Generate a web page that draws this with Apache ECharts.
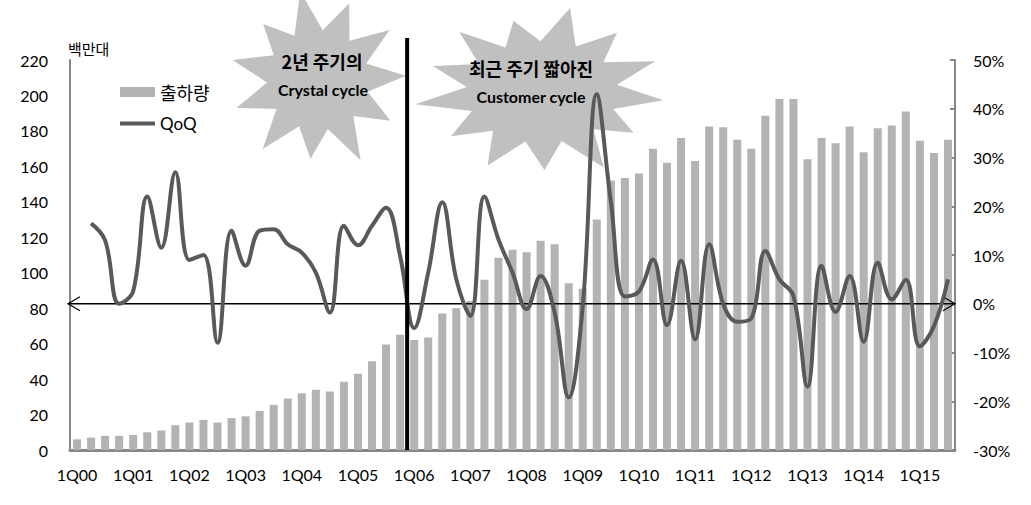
<!DOCTYPE html>
<html><head><meta charset="utf-8">
<script src="https://cdn.jsdelivr.net/npm/echarts@6/dist/echarts.min.js"></script>
<style>html,body{margin:0;padding:0;background:#fff}#c{width:1031px;height:505px}</style>
</head><body><div id="c"></div>
<script>
const categories = ['1Q00','2Q00','3Q00','4Q00','1Q01','2Q01','3Q01','4Q01','1Q02','2Q02','3Q02','4Q02',
  '1Q03','2Q03','3Q03','4Q03','1Q04','2Q04','3Q04','4Q04','1Q05','2Q05','3Q05','4Q05',
  '1Q06','2Q06','3Q06','4Q06','1Q07','2Q07','3Q07','4Q07','1Q08','2Q08','3Q08','4Q08',
  '1Q09','2Q09','3Q09','4Q09','1Q10','2Q10','3Q10','4Q10','1Q11','2Q11','3Q11','4Q11',
  '1Q12','2Q12','3Q12','4Q12','1Q13','2Q13','3Q13','4Q13','1Q14','2Q14','3Q14','4Q14',
  '1Q15','2Q15','3Q15'];
// 출하량 (백만대)
const shipments = [6, 7, 8, 8, 8.5, 10, 11, 14, 15.5, 17, 15.5, 18,
  19, 22, 25.5, 29, 32, 34, 33, 38.5, 43, 50, 59.5, 65,
  62, 63.5, 77, 80, 84, 96, 108.5, 113, 111.5, 118, 116, 94,
  91, 130, 152, 153.5, 156, 170, 162, 176, 163, 182.5, 182, 175,
  170, 188.5, 198, 198, 164, 176, 173, 182.5, 168, 181.5, 183, 191,
  174.5, 167.5, 175];
// QoQ (%)
const qoq = [null, 16.5, 13, 0, 2.6, 22, 11.5, 27, 9, 10, -8, 15,
  7.8, 15, 15.3, 12.2, 10.5, 6.4, -1.8, 16, 12, 16, 19.7, 9.8,
  -5, 6.4, 20.8, 5, -2.5, 22, 13.2, 6.4, -1.1, 5.7, -1.8, -19.2,
  -0.5, 43, 21, 1.5, 2.5, 9.1, -4.4, 8.8, -7.3, 12.2, 0, -3.7,
  -3, 10.8, 5, 1.6, -17, 7.8, -1.7, 5.7, -7.8, 8.4, 0.9, 4.9,
  -8.7, -4.6, 5];
const leftAxisTicks = {min: 0, max: 220, interval: 20};
const rightAxisTicks = {min: -30, max: 50, interval: 10};
const unitLabel = '백만대';
const cycleNotes = [['2년 주기의', 'Crystal cycle'], ['최근 주기 짧아진', 'Customer cycle']];
const cycleBreak = ['4Q05', '1Q06'];

const NUMF = 'Lato, "Noto Sans CJK KR", sans-serif';
const KRF = '"Noto Sans CJK KR", Lato, sans-serif';

const chart = echarts.init(document.getElementById('c'), null, {renderer: 'svg'});
chart.setOption({
  animation: false,
  backgroundColor: '#fff',
  grid: {left: 70, right: 76, top: 60, bottom: 55},
  legend: {
    orient: 'vertical', left: 113, top: 78, itemWidth: 35, itemHeight: 10, itemGap: 14,
    textStyle: {fontSize: 18, color: '#000', fontFamily: KRF},
    data: [{name: '출하량', icon: 'rect'},
      {name: 'QoQ', textStyle: {fontFamily: NUMF, fontSize: 17},
       itemStyle: {opacity: 0}, lineStyle: {width: 4, color: '#595959'}}]
  },
  xAxis: {
    type: 'category', data: categories, boundaryGap: true,
    axisLine: {lineStyle: {color: '#888', width: 3}},
    axisTick: {show: false},
    axisLabel: {interval: 3, color: '#000', fontSize: 16, fontFamily: NUMF, margin: 16}
  },
  yAxis: [{
    type: 'value', min: leftAxisTicks.min, max: leftAxisTicks.max, interval: leftAxisTicks.interval,
    axisLine: {show: true, lineStyle: {color: '#888', width: 2}},
    axisTick: {show: false}, splitLine: {show: false},
    axisLabel: {color: '#000', fontSize: 16, fontFamily: NUMF, margin: 22}
  }, {
    type: 'value', min: rightAxisTicks.min, max: rightAxisTicks.max, interval: rightAxisTicks.interval,
    position: 'right',
    axisLine: {show: true, lineStyle: {color: '#888', width: 2}},
    axisTick: {show: true, inside: true, length: 5, lineStyle: {color: '#888', width: 2}},
    splitLine: {show: false},
    axisLabel: {color: '#000', fontSize: 16, fontFamily: NUMF, margin: 18, formatter: '{value}%'}
  }],
  series: [{
    name: '출하량', type: 'bar', data: shipments, barWidth: '57%', z: 2,
    itemStyle: {color: '#b3b3b3'}
  }, {
    name: 'QoQ', type: 'line', yAxisIndex: 1, data: qoq, smooth: 0.4, symbol: 'none', z: 4,
    connectNulls: false,
    lineStyle: {color: '#595959', width: 4}, itemStyle: {color: '#595959'}
  }]
});

function starPoints(cx, cy, rx, ry, radii, inner, rot) {
  const n = radii.length, pts = [];
  for (let k = 0; k < n; k++) {
    const a = rot + k * 2 * Math.PI / n;
    pts.push([cx + rx * radii[k] * Math.cos(a), cy + ry * radii[k] * Math.sin(a)]);
    const b = a + Math.PI / n;
    pts.push([cx + rx * inner * Math.cos(b), cy + ry * inner * Math.sin(b)]);
  }
  return pts;
}

function drawAnnotations() {
  const xa = chart.convertToPixel({xAxisIndex: 0}, cycleBreak[0]);
  const xb = chart.convertToPixel({xAxisIndex: 0}, cycleBreak[1]);
  const xBreak = (xa + xb) / 2;
  const yBottom = chart.convertToPixel({yAxisIndex: 0}, 0);
  const yZero = chart.convertToPixel({yAxisIndex: 1}, 0);
  const xLeft = chart.convertToPixel({xAxisIndex: 0}, categories[0]) - 9;
  const xRight = chart.convertToPixel({xAxisIndex: 0}, categories[categories.length - 1]) + 7;
  const starFill = '#c0c0c0';
  chart.setOption({
    graphic: [
      {type: 'polygon', z: 1, shape: {points: starPoints(318, 80, 88, 86,
        [1, 0.95, 1.05, 0.92, 1.02, 0.98, 1.0, 0.9, 1.05, 0.96, 1.0], 0.58, -0.05)},
        style: {fill: starFill}, silent: true},
      {type: 'polygon', z: 1, shape: {points: starPoints(542, 92, 122, 82,
        [1, 0.9, 1.05, 0.95, 1.0, 0.92, 1.05, 0.95, 1.0, 0.9, 1.05, 0.95, 1.0], 0.62, 0.1)},
        style: {fill: starFill}, silent: true},
      {type: 'text', z: 6, x: 322, y: 61, style: {text: cycleNotes[0][0], fill: '#000',
        font: 'bold 18px ' + KRF, textAlign: 'center', textVerticalAlign: 'middle'}},
      {type: 'text', z: 6, x: 323, y: 89, style: {text: cycleNotes[0][1], fill: '#000',
        font: 'bold 16px ' + NUMF, textAlign: 'center', textVerticalAlign: 'middle'}},
      {type: 'text', z: 6, x: 531, y: 68, style: {text: cycleNotes[1][0], fill: '#000',
        font: 'bold 18px ' + KRF, textAlign: 'center', textVerticalAlign: 'middle'}},
      {type: 'text', z: 6, x: 531, y: 96, style: {text: cycleNotes[1][1], fill: '#000',
        font: 'bold 16px ' + NUMF, textAlign: 'center', textVerticalAlign: 'middle'}},
      {type: 'text', z: 6, x: 68, y: 48, style: {text: unitLabel, fill: '#000',
        font: '15px ' + KRF, textAlign: 'left', textVerticalAlign: 'middle'}},
      {type: 'line', z: 3, shape: {x1: xLeft, y1: yZero, x2: xRight, y2: yZero},
        style: {stroke: '#000', lineWidth: 1.5}, silent: true},
      {type: 'polyline', z: 3, shape: {points: [[xLeft + 12, yZero - 7], [xLeft, yZero], [xLeft + 12, yZero + 7]]},
        style: {stroke: '#000', lineWidth: 1.2, fill: null}, silent: true},
      {type: 'polyline', z: 3, shape: {points: [[xRight - 12, yZero - 7], [xRight, yZero], [xRight - 12, yZero + 7]]},
        style: {stroke: '#000', lineWidth: 1.2, fill: null}, silent: true},
      {type: 'line', z: 6, shape: {x1: xBreak, y1: 38, x2: xBreak, y2: yBottom},
        style: {stroke: '#000', lineWidth: 4}, silent: true}
    ]
  });
}
drawAnnotations();
</script>
</body></html>
